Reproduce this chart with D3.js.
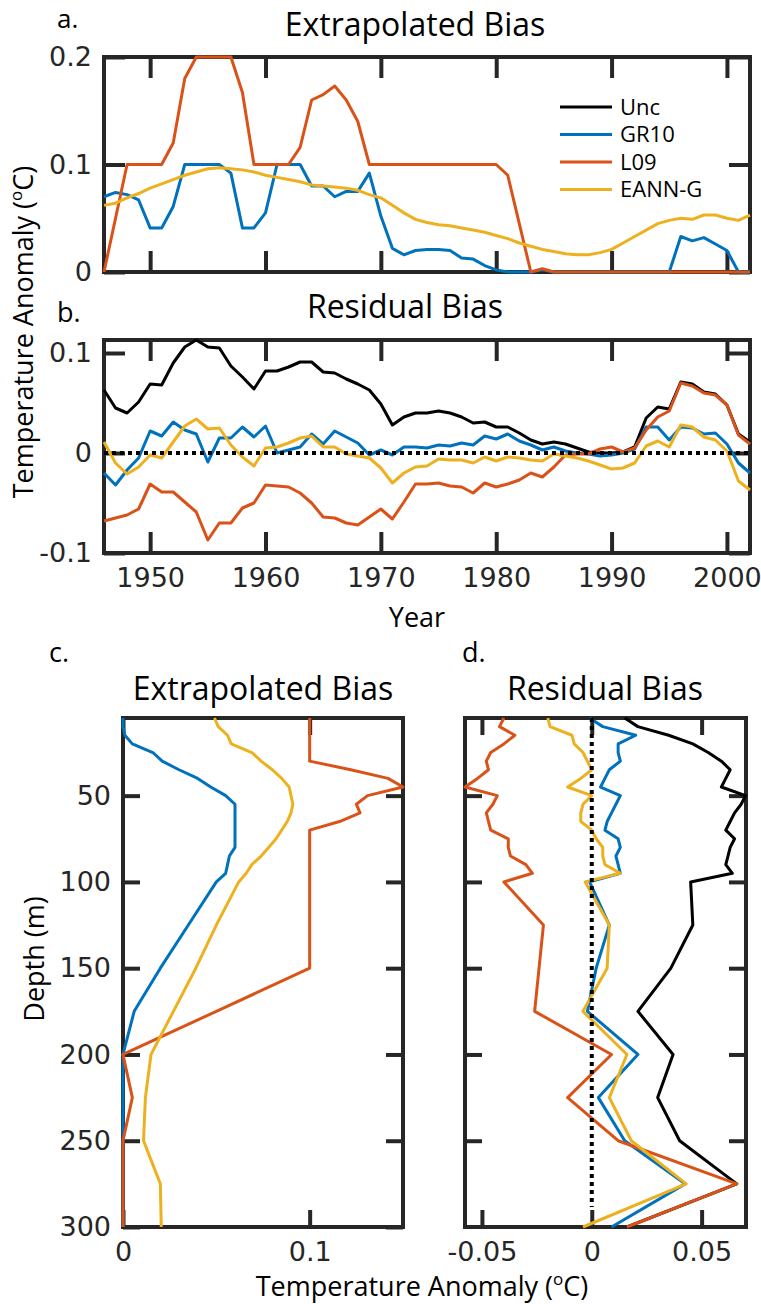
<!DOCTYPE html>
<html>
<head>
<meta charset="utf-8">
<script src="https://cdn.jsdelivr.net/npm/d3@7"></script>
<style>
  body { margin: 0; background: #fff; }
</style>
</head>
<body>
<script>
// years 1946..2002 (x axis of panels a, b)
const years = d3.range(1946, 2003);

// a. extrapolated bias per year
const extGR10 = [0.070, 0.074, 0.072, 0.067, 0.041, 0.041, 0.061, 0.100, 0.100, 0.100,
  0.100, 0.092, 0.041, 0.041, 0.055, 0.100, 0.100, 0.100, 0.080, 0.080,
  0.070, 0.075, 0.075, 0.092, 0.052, 0.022, 0.016, 0.020, 0.021, 0.021,
  0.020, 0.013, 0.012, 0.006, 0.002, 0, 0, 0, 0.002, 0,
  0, 0, 0, 0, 0, 0, 0, 0, 0, 0,
  0.033, 0.029, 0.032, 0.026, 0.020, 0, 0];
const extL09 = [0, 0.05, 0.1, 0.1, 0.1, 0.1, 0.12, 0.18, 0.2, 0.2,
  0.2, 0.2, 0.167, 0.1, 0.1, 0.1, 0.1, 0.116, 0.16, 0.165,
  0.173, 0.16, 0.14, 0.1, 0.1, 0.1, 0.1, 0.1, 0.1, 0.1,
  0.1, 0.1, 0.1, 0.1, 0.1, 0.09, 0.045, 0, 0.003, 0,
  0, 0, 0, 0, 0, 0, 0, 0, 0, 0,
  0, 0, 0, 0, 0, 0, 0];
const extEANN = [0.062, 0.064, 0.069, 0.073, 0.078, 0.082, 0.086, 0.090, 0.093, 0.096,
  0.097, 0.096, 0.095, 0.093, 0.090, 0.088, 0.086, 0.084, 0.081, 0.080,
  0.079, 0.078, 0.076, 0.072, 0.069, 0.062, 0.055, 0.049, 0.046, 0.044,
  0.043, 0.041, 0.039, 0.037, 0.034, 0.031, 0.027, 0.024, 0.021, 0.019,
  0.017, 0.016, 0.016, 0.018, 0.021, 0.027, 0.033, 0.039, 0.045, 0.048,
  0.050, 0.049, 0.053, 0.053, 0.050, 0.048, 0.053];

// b. residual bias per year
const resUnc = [0.063, 0.045, 0.040, 0.051, 0.069, 0.068, 0.090, 0.106, 0.113, 0.106,
  0.105, 0.087, 0.076, 0.064, 0.082, 0.082, 0.086, 0.091, 0.091, 0.081,
  0.080, 0.074, 0.069, 0.063, 0.049, 0.028, 0.036, 0.040, 0.040, 0.042,
  0.040, 0.036, 0.030, 0.031, 0.026, 0.026, 0.020, 0.013, 0.009, 0.011,
  0.009, 0.005, 0.001, 0.000, 0.000, 0.001, 0.006, 0.035, 0.046, 0.044,
  0.071, 0.069, 0.061, 0.059, 0.048, 0.019, 0.011];
const resGR10 = [-0.020, -0.032, -0.017, -0.005, 0.022, 0.017, 0.031, 0.023, 0.019, -0.009,
  0.015, 0.015, 0.026, 0.016, 0.027, 0.000, 0.003, 0.006, 0.019, 0.009,
  0.022, 0.016, 0.010, -0.002, 0.003, -0.002, 0.006, 0.006, 0.005, 0.008,
  0.007, 0.010, 0.008, 0.017, 0.014, 0.019, 0.012, 0.008, 0.003, 0.006,
  0.002, 0.000, -0.001, -0.003, -0.002, 0.000, 0.004, 0.026, 0.026, 0.013,
  0.026, 0.025, 0.019, 0.020, 0.009, -0.010, -0.020];
const resL09 = [-0.068, -0.065, -0.062, -0.056, -0.031, -0.039, -0.039, -0.049, -0.059, -0.087,
  -0.070, -0.070, -0.055, -0.050, -0.032, -0.033, -0.034, -0.040, -0.050, -0.064,
  -0.065, -0.070, -0.072, -0.064, -0.056, -0.066, -0.049, -0.031, -0.031, -0.030,
  -0.033, -0.034, -0.040, -0.030, -0.034, -0.031, -0.027, -0.020, -0.024, -0.014,
  -0.002, -0.001, -0.001, 0.004, 0.006, 0.001, 0.005, 0.023, 0.036, 0.042,
  0.070, 0.067, 0.060, 0.058, 0.048, 0.018, 0.009];
const resEANN = [0.011, -0.010, -0.021, -0.014, -0.002, -0.005, 0.011, 0.027, 0.034, 0.024,
  0.025, 0.008, -0.004, -0.013, 0.005, 0.006, 0.010, 0.015, 0.017, 0.006,
  0.006, -0.001, -0.003, -0.005, -0.015, -0.030, -0.020, -0.014, -0.013, -0.006,
  -0.007, -0.007, -0.010, -0.004, -0.008, -0.004, -0.005, -0.007, -0.008, -0.001,
  -0.003, -0.005, -0.008, -0.012, -0.016, -0.015, -0.010, 0.007, 0.012, 0.006,
  0.028, 0.026, 0.016, 0.013, 0.002, -0.028, -0.037];

// depths (m) for panels c, d
const depths = [5, 10, 15, 20, 25, 30, 35, 40, 45, 50, 55, 60, 65, 70, 75, 80, 85, 90, 95, 100,
  125, 150, 175, 200, 225, 250, 275, 300];

// c. extrapolated bias per depth
const zExtGR10 = [0, 0, 0.001, 0.005, 0.016, 0.021, 0.030, 0.040, 0.047, 0.055,
  0.060, 0.060, 0.060, 0.060, 0.060, 0.060, 0.057, 0.056, 0.055, 0.050,
  0.035, 0.020, 0.006, 0, 0, 0, 0, 0];
const zExtL09 = [0.1, 0.1, 0.1, 0.1, 0.1, 0.1, 0.122, 0.142, 0.15, 0.131,
  0.125, 0.127, 0.116, 0.1, 0.1, 0.1, 0.1, 0.1, 0.1, 0.1,
  0.1, 0.1, 0.05, 0, 0.005, 0, 0, 0];
const zExtEANN = [0.049, 0.051, 0.056, 0.058, 0.069, 0.074, 0.080, 0.085, 0.089, 0.090,
  0.091, 0.090, 0.088, 0.085, 0.082, 0.078, 0.074, 0.069, 0.066, 0.062,
  0.050, 0.039, 0.027, 0.015, 0.012, 0.011, 0.020, 0.0205];

// d. residual bias per depth
const zResUnc = [0.015, 0.021, 0.035, 0.046, 0.053, 0.059, 0.063, 0.061, 0.059, 0.070,
  0.068, 0.065, 0.063, 0.061, 0.065, 0.063, 0.062, 0.061, 0.064, 0.045,
  0.046, 0.036, 0.021, 0.037, 0.030, 0.040, 0.066, 0.016];
const zResGR10 = [-0.001, 0.005, 0.020, 0.012, 0.012, 0.013, 0.008, 0.006, 0.004, 0.013,
  0.011, 0.009, 0.007, 0.006, 0.012, 0.013, 0.011, 0.012, 0.013, -0.001,
  0.008, 0.002, -0.002, 0.021, 0.003, 0.015, 0.0425, 0.009];
const zResL09 = [-0.040, -0.042, -0.035, -0.040, -0.046, -0.048, -0.047, -0.052, -0.0577, -0.043,
  -0.045, -0.048, -0.047, -0.046, -0.038, -0.038, -0.037, -0.030, -0.027, -0.040,
  -0.022, -0.024, -0.026, 0.009, -0.011, 0.012, 0.066, 0.016];
const zResEANN = [-0.020, -0.019, -0.009, -0.008, -0.004, -0.002, 0.000, -0.005, -0.011, 0.000,
  -0.004, -0.005, -0.005, 0.000, 0.002, 0.005, 0.005, 0.006, 0.013, -0.003,
  0.008, 0.007, -0.004, 0.016, 0.008, 0.018, 0.043, -0.004];

// tick values and axis limits
const yearTicks = [1950, 1960, 1970, 1980, 1990, 2000];
const extTicks = [0, 0.1, 0.2];
const resTicks = [-0.1, 0, 0.1];
const depthTicks = [50, 100, 150, 200, 250, 300];
const zExtTicks = [0, 0.1];
const zResTicks = [-0.05, 0, 0.05];
const yearLim = [1946, 2002];
const extLim = [0, 0.2];
const resLim = [-0.1, 0.113];
const depthLim = [5, 300];
const zExtLim = [0, 0.15];
const zResLim = [-0.0577, 0.0702];

const seriesNames = ['Unc', 'GR10', 'L09', 'EANN-G'];
const colors = ['#000000', '#0072BD', '#D95319', '#EDB120'];
const ink = '#262626';
const titleFont = "'Open Sans', sans-serif";
const tickFont = "'DejaVu Sans', sans-serif";

const svg = d3.select('body')
              .append('svg')
              .attr('width', 761)
              .attr('height', 1304);

const fmt = d => d === 0 ? '0' : String(d);

// box with inward ticks on all four sides
function frame(g, w, h, x, y, o) {
  const tl = o.tickLen;
  g.append('g').attr('transform', `translate(0, ${h})`)
    .call(d3.axisBottom(x).tickValues(o.xTicks).tickSize(-tl).tickPadding(15)
      .tickFormat(o.xLabels ? fmt : ''));
  g.append('g')
    .call(d3.axisTop(x).tickValues(o.xTicks).tickSize(-tl).tickFormat(''));
  g.append('g')
    .call(d3.axisLeft(y).tickValues(o.yTicks).tickSize(-tl).tickPadding(12)
      .tickFormat(o.yLabels ? fmt : ''));
  g.append('g').attr('transform', `translate(${w}, 0)`)
    .call(d3.axisRight(y).tickValues(o.yTicks).tickSize(-tl).tickFormat(''));
  g.selectAll('.domain').remove();
  g.selectAll('.tick line').attr('stroke', ink).attr('stroke-width', 4);
  g.selectAll('.tick text').attr('fill', ink)
    .style('font-family', tickFont).style('font-size', '27px');
  g.append('rect')
    .attr('width', w).attr('height', h)
    .attr('fill', 'none').attr('stroke', ink).attr('stroke-width', 4);
}

function drawLines(g, list, lineGen) {
  list.forEach(s => {
    g.append('path')
      .datum(s.values)
      .attr('fill', 'none')
      .attr('stroke', colors[s.k])
      .attr('stroke-width', 3)
      .attr('stroke-linejoin', 'round')
      .attr('d', lineGen);
  });
}

function text(x, y, str, size, anchor) {
  return svg.append('text')
    .attr('x', x).attr('y', y)
    .attr('text-anchor', anchor || 'start')
    .style('font-family', titleFont)
    .style('font-size', size + 'px')
    .attr('fill', '#000')
    .text(str);
}

// ---------- a. Extrapolated Bias (time) ----------
const aW = 646, aH = 215;
const ga = svg.append('g').attr('transform', 'translate(104, 57)');
const xYear = d3.scaleLinear().domain(yearLim).range([0, aW]);
const yExt = d3.scaleLinear().domain(extLim).range([aH, 0]);
frame(ga, aW, aH, xYear, yExt, { xTicks: yearTicks, yTicks: extTicks, tickLen: 21, yLabels: true });
drawLines(ga, [
  { k: 1, values: extGR10 },
  { k: 2, values: extL09 },
  { k: 3, values: extEANN }
], d3.line().x((d, i) => xYear(years[i])).y(d => yExt(d)));

// legend
const leg = ga.append('g').attr('transform', 'translate(456, 50)');
seriesNames.forEach((name, i) => {
  leg.append('line')
    .attr('x1', 0).attr('x2', 52)
    .attr('y1', i * 27.5).attr('y2', i * 27.5)
    .attr('stroke', colors[i]).attr('stroke-width', 3);
  leg.append('text')
    .attr('x', 60).attr('y', i * 27.5).attr('dy', '0.35em')
    .style('font-family', titleFont).style('font-size', '22px')
    .text(name);
});

// ---------- b. Residual Bias (time) ----------
const bH = 213;
const gb = svg.append('g').attr('transform', 'translate(104, 340)');
const yRes = d3.scaleLinear().domain(resLim).range([bH, 0]);
frame(gb, aW, bH, xYear, yRes, { xTicks: yearTicks, yTicks: resTicks, tickLen: 21, xLabels: true, yLabels: true });
drawLines(gb, [
  { k: 0, values: resUnc },
  { k: 1, values: resGR10 },
  { k: 2, values: resL09 },
  { k: 3, values: resEANN }
], d3.line().x((d, i) => xYear(years[i])).y(d => yRes(d)));
gb.append('line')
  .attr('x1', 0).attr('x2', aW)
  .attr('y1', yRes(0)).attr('y2', yRes(0))
  .attr('stroke', '#000').attr('stroke-width', 4).attr('stroke-dasharray', '4 4');

// ---------- c. Extrapolated Bias (depth) ----------
const cW = 280, cH = 509;
const gc = svg.append('g').attr('transform', 'translate(123, 718)');
const xZExt = d3.scaleLinear().domain(zExtLim).range([0, cW]);
const yDepth = d3.scaleLinear().domain(depthLim).range([0, cH]);
frame(gc, cW, cH, xZExt, yDepth, { xTicks: zExtTicks, yTicks: depthTicks, tickLen: 17, xLabels: true, yLabels: true });
drawLines(gc, [
  { k: 1, values: zExtGR10 },
  { k: 2, values: zExtL09 },
  { k: 3, values: zExtEANN }
], d3.line().x(d => xZExt(d)).y((d, i) => yDepth(depths[i])));

// ---------- d. Residual Bias (depth) ----------
const dW = 281;
const gd = svg.append('g').attr('transform', 'translate(465, 718)');
const xZRes = d3.scaleLinear().domain(zResLim).range([0, dW]);
frame(gd, dW, cH, xZRes, yDepth, { xTicks: zResTicks, yTicks: depthTicks.slice(0, 5), tickLen: 17, xLabels: true });
drawLines(gd, [
  { k: 0, values: zResUnc },
  { k: 1, values: zResGR10 },
  { k: 2, values: zResL09 },
  { k: 3, values: zResEANN }
], d3.line().x(d => xZRes(d)).y((d, i) => yDepth(depths[i])));
gd.append('line')
  .attr('x1', xZRes(0)).attr('x2', xZRes(0))
  .attr('y1', 0).attr('y2', cH - 20)
  .attr('stroke', '#000').attr('stroke-width', 4).attr('stroke-dasharray', '4 4');

// ---------- titles and labels ----------
text(415, 36, 'Extrapolated Bias', 32, 'middle');
text(405, 318, 'Residual Bias', 32, 'middle');
text(263, 700, 'Extrapolated Bias', 32, 'middle');
text(605, 700, 'Residual Bias', 32, 'middle');
text(57, 28, 'a.', 26);
text(57, 322, 'b.', 27);
text(49, 662, 'c.', 27);
text(462, 662, 'd.', 27);
text(417, 627, 'Year', 27, 'middle');

function tempLabel(t) {
  t.text('Temperature Anomaly (');
  t.append('tspan').attr('baseline-shift', 'super').style('font-size', '17px').text('o');
  t.append('tspan').text('C)');
}
text(422, 1296, '', 27, 'middle').call(tempLabel);
text(0, 0, '', 27, 'middle')
  .attr('transform', 'translate(33, 332) rotate(-90)')
  .call(tempLabel);
text(0, 0, 'Depth (m)', 27, 'middle')
  .attr('transform', 'translate(44, 959) rotate(-90)');
</script>
</body>
</html>
